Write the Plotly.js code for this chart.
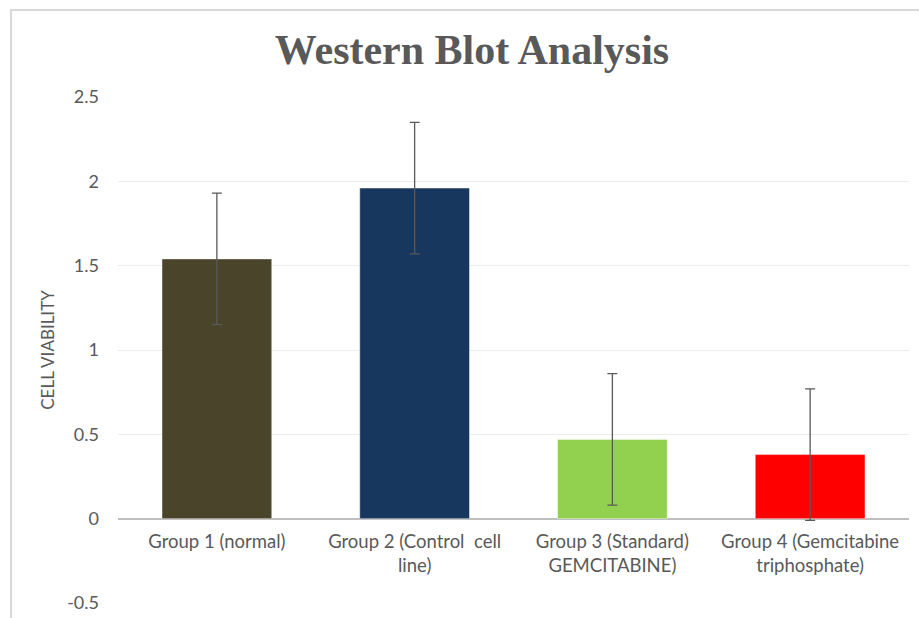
<!DOCTYPE html>
<html>
<head>
<meta charset="utf-8">
<script src="https://cdn.plot.ly/plotly-3.0.1.min.js"></script>
<style>
html,body{margin:0;padding:0;background:#fff;}
#wrap{position:relative;width:919px;height:618px;overflow:hidden;}
#chart{position:absolute;left:0;top:0;width:919px;height:618px;}
#frame{position:absolute;left:10px;top:9px;width:930px;height:640px;border:2px solid #D9D9D9;pointer-events:none;box-sizing:border-box;}
</style>
</head>
<body>
<div id="wrap">
<div id="chart"></div>
<div id="frame"></div>
</div>
<script>
const categories = [
  "Group 1 (normal)",
  "Group 2 (Control  cell<br>line)",
  "Group 3 (Standard)<br>GEMCITABINE)",
  "Group 4 (Gemcitabine<br>triphosphate)"
];
const viability = [1.54, 1.96, 0.47, 0.38];
const errors = [0.39, 0.39, 0.39, 0.39];
const barColors = ["#4A442A", "#17375E", "#92D050", "#FF0000"];
const yTicks = [-0.5, 0, 0.5, 1, 1.5, 2, 2.5];

const trace = {
  type: "bar",
  x: categories,
  y: viability,
  marker: {color: barColors, line: {color: "rgba(255,255,255,0.45)", width: 1}},
  error_y: {type: "data", array: errors, visible: true, color: "#595959", thickness: 1.3, width: 5},
  hoverinfo: "none"
};

const layout = {
  width: 919, height: 618,
  paper_bgcolor: "#ffffff", plot_bgcolor: "#ffffff",
  margin: {l: 118, r: 10, t: 97, b: 15},
  showlegend: false,
  bargap: 0.445,
  title: {
    text: "<b>Western Blot Analysis</b>",
    font: {family: "Liberation Serif, serif", size: 42, color: "#595959"},
    x: 472/919, xref: "container", xanchor: "center",
    y: 1 - 49/618, yref: "container", yanchor: "middle"
  },
  xaxis: {
    type: "category",
    anchor: "free", position: 1/6,
    showline: false, showgrid: false, ticks: "",
    ticklabelstandoff: 10,
    tickfont: {family: "Lato, Open Sans, sans-serif", size: 18.5, color: "#595959"},
    automargin: false
  },
  yaxis: {
    range: [-0.5, 2.5],
    tickvals: yTicks,
    ticktext: yTicks.map(v => String(v)),
    showgrid: true, gridcolor: "#ECECEC", gridwidth: 1,
    zeroline: true, zerolinecolor: "#BFBFBF", zerolinewidth: 2,
    showline: false, ticks: "",
    ticklabelstandoff: 18,
    tickfont: {family: "Lato, Open Sans, sans-serif", size: 18, color: "#595959"},
    title: {text: "CELL VIABILITY", font: {family: "Lato, Open Sans, sans-serif", size: 17, color: "#595959"}, standoff: 8},
    automargin: false
  }
};

Plotly.newPlot("chart", [trace], layout, {displayModeBar: false, staticPlot: true});
</script>
</body>
</html>
